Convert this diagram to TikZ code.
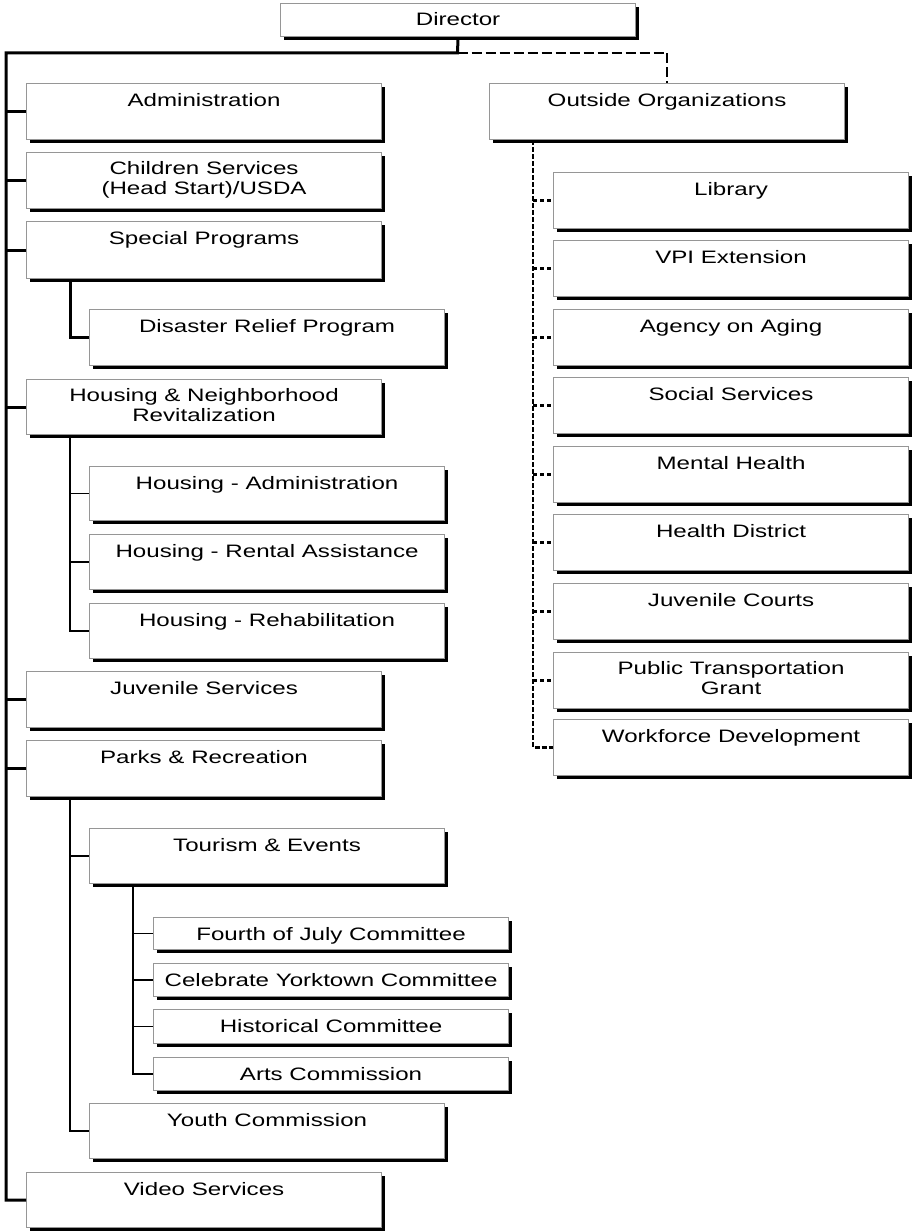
\documentclass[tikz,border=0pt]{standalone}
\usepackage{fontspec}
\setmainfont{Liberation Sans}[FakeStretch=1.34]
\usetikzlibrary{shadows}
\definecolor{boxgray}{RGB}{150,150,150}

\begin{document}
\begin{tikzpicture}[x=1pt,y=-1pt,
    font=\fontsize{18pt}{20pt}\selectfont,
    box/.style={draw=boxgray,line width=1.1pt,fill=white,anchor=north west,
      minimum width=355pt,minimum height=#1,inner sep=0pt,
      drop shadow={shadow xshift=3pt,shadow yshift=-3pt,fill=black,opacity=1}},
    box/.default=56pt,
    txt/.style={anchor=base,yshift=-23pt,align=center},
    txttwo/.style={anchor=base,yshift=-42pt,align=center},
    mainline/.style={line width=3pt},
    subline/.style={line width=1.7pt},
    leafline/.style={line width=1.3pt},
    topdash/.style={line width=2.8pt,dash pattern=on 10pt off 4pt},
    outvert/.style={line width=2.6pt,dash pattern=on 5pt off 2pt},
    outbranch/.style={line width=2.2pt,dash pattern=on 4pt off 3pt}]
  \useasboundingbox (0,0) rectangle (915,1231);

  \node[box=33pt,label={[txt]north:Director}] (director) at (280,3) {};

  \node[box,label={[txt]north:Administration}] (admin) at (26,83) {};
  \node[box,label={[txttwo]north:Children Services\\(Head Start)/USDA}] (children) at (26,152) {};
  \node[box=57pt,label={[txt]north:Special Programs}] (special) at (26,221) {};
  \node[box,label={[txt]north:Disaster Relief Program}] (disaster) at (89,309) {};
  \node[box=55pt,label={[txttwo]north:Housing \& Neighborhood\\Revitalization}] (housing) at (26,379) {};
  \node[box=54pt,label={[txt]north:Housing - Administration}] (hadmin) at (89,466) {};
  \node[box=55pt,label={[txt]north:Housing - Rental Assistance}] (hrental) at (89,534) {};
  \node[box=55pt,label={[txt]north:Housing - Rehabilitation}] (hrehab) at (89,603) {};
  \node[box,label={[txt]north:Juvenile Services}] (juvsvc) at (26,671) {};
  \node[box,label={[txt]north:Parks \& Recreation}] (parks) at (26,740) {};
  \node[box=55pt,label={[txt]north:Tourism \& Events}] (tourism) at (89,828) {};
  \node[box=32pt,label={[txt]north:Fourth of July Committee}] (fourth) at (153,917) {};
  \node[box=33pt,label={[txt]north:Celebrate Yorktown Committee}] (celebrate) at (153,963) {};
  \node[box=34pt,label={[txt]north:Historical Committee}] (historical) at (153,1009) {};
  \node[box=33pt,label={[txt]north:Arts Commission}] (arts) at (153,1057) {};
  \node[box=55pt,label={[txt]north:Youth Commission}] (youth) at (89,1103) {};
  \node[box=55pt,label={[txt]north:Video Services}] (video) at (26,1172) {};

  \node[box,label={[txt]north:Outside Organizations}] (outside) at (489,83) {};
  \foreach \n/\y/\t/\s in {library/172/Library/txt,vpi/240/VPI Extension/txt,
      aging/309/Agency on Aging/txt,social/377/Social Services/txt,
      mental/446/Mental Health/txt,health/514/Health District/txt,
      juvcourts/583/Juvenile Courts/txt,public/652/{Public Transportation\\Grant}/txttwo,
      workforce/719/Workforce Development/txt}
    \node[box,label={[\s]north:\t}] (\n) at (553,\y) {};

  \coordinate (bus) at (457.5,53);
  \coordinate (lbus) at (6,53);
  \draw[mainline] (director.south) -- (bus) -- (lbus) |- (video.west);
  \foreach \b in {admin,children,special,housing,juvsvc,parks}
    \draw[mainline] (lbus |- \b.west) -- (\b.west);
  \draw[topdash] (bus) -| (outside.north);

  \draw[mainline] ([xshift=44pt]special.south west) |- (disaster.west);

  \coordinate (hbus) at ([xshift=44pt]housing.south west);
  \draw[subline] (hbus) |- (hrehab.west);
  \foreach \b in {hadmin,hrental}
    \draw[subline] (hbus |- \b.west) -- (\b.west);

  \coordinate (pbus) at ([xshift=44pt]parks.south west);
  \draw[subline] (pbus) |- (youth.west);
  \draw[subline] (pbus |- tourism.west) -- (tourism.west);

  \coordinate (tbus) at ([xshift=44pt]tourism.south west);
  \draw[leafline] (tbus) |- (arts.west);
  \foreach \b in {fourth,celebrate,historical}
    \draw[leafline] (tbus |- \b.west) -- (\b.west);

  \coordinate (obus) at ([xshift=44pt]outside.south west);
  \draw[outvert] (obus) |- (workforce.west);
  \foreach \b in {library,vpi,aging,social,mental,health,juvcourts,public}
    \draw[outbranch] (obus |- \b.west) -- (\b.west);
\end{tikzpicture}
\end{document}
